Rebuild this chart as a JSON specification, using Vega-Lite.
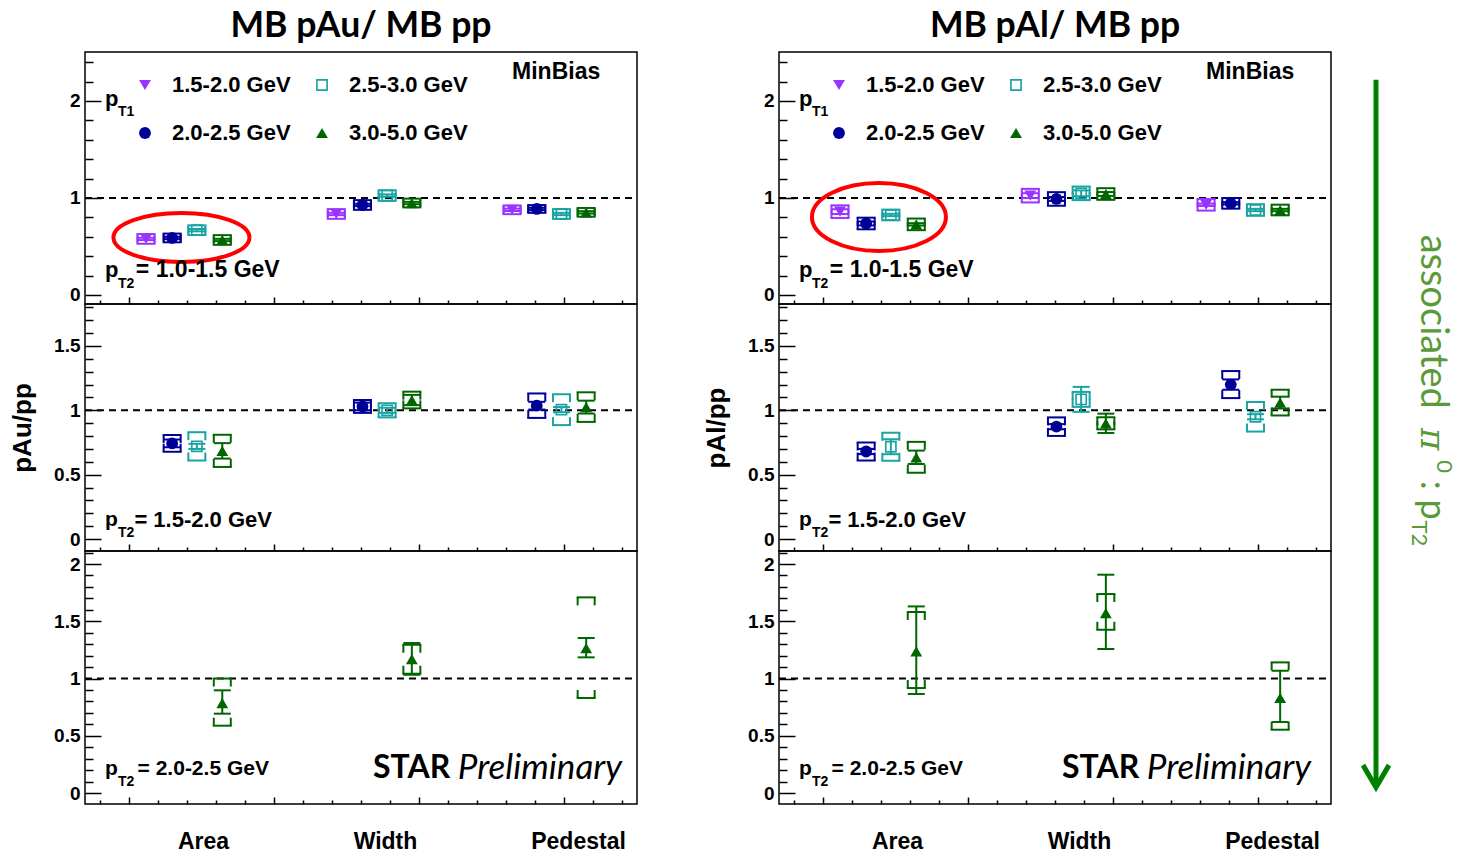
{
"$schema":"https://vega.github.io/schema/vega-lite/v6.json",
"autosize":{"type":"pad"},
"padding":{"left":8,"top":8,"right":0,"bottom":0},
"background":"white",
"config":{
"view":{"stroke":"black","strokeWidth":1.5},
"axis":{"grid":false,"domain":false,"tickColor":"black","tickWidth":1.5,"labelFont":"Liberation Sans","labelFontWeight":"bold","labelFontSize":19,"labelColor":"black","labelFlush":false,"labelOverlap":false,"titleFont":"Liberation Sans","titleFontWeight":"bold","titleFontSize":26,"titleColor":"black"},
"title":{"font":"Lato","fontWeight":"bold","fontSize":35.6,"color":"black"}
},
"spacing":63,
"hconcat":[
{"spacing":0,"bounds":"flush",
"resolve":{"scale":{"color":"independent","shape":"independent"},"legend":{"color":"independent","shape":"independent"}},
"vconcat":[
{"width":552,"height":252,
"title":{"text":"MB pAu/ MB pp","anchor":"middle","frame":"group","offset":-21,"baseline":"alphabetic"},
"data":{"values":[
{"o":"Area","p":"1.5-2.0 GeV","x":0.12,"v":0.578,"sl":0.566,"sh":0.59,"yl":0.528,"yh":0.628},
{"o":"Area","p":"2.0-2.5 GeV","x":0.3,"v":0.588,"sl":0.576,"sh":0.6,"yl":0.543,"yh":0.633},
{"o":"Area","p":"2.5-3.0 GeV","x":0.47,"v":0.668,"sl":0.656,"sh":0.68,"yl":0.618,"yh":0.718},
{"o":"Area","p":"3.0-5.0 GeV","x":0.645,"v":0.567,"sl":0.555,"sh":0.579,"yl":0.517,"yh":0.617},
{"o":"Width","p":"1.5-2.0 GeV","x":1.43,"v":0.835,"sl":0.823,"sh":0.847,"yl":0.785,"yh":0.885},
{"o":"Width","p":"2.0-2.5 GeV","x":1.61,"v":0.928,"sl":0.916,"sh":0.94,"yl":0.878,"yh":0.978},
{"o":"Width","p":"2.5-3.0 GeV","x":1.78,"v":1.025,"sl":1.013,"sh":1.037,"yl":0.97,"yh":1.08},
{"o":"Width","p":"3.0-5.0 GeV","x":1.95,"v":0.948,"sl":0.936,"sh":0.96,"yl":0.903,"yh":0.993},
{"o":"Pedestal","p":"1.5-2.0 GeV","x":2.64,"v":0.878,"sl":0.866,"sh":0.89,"yl":0.833,"yh":0.923},
{"o":"Pedestal","p":"2.0-2.5 GeV","x":2.81,"v":0.887,"sl":0.875,"sh":0.899,"yl":0.847,"yh":0.927},
{"o":"Pedestal","p":"2.5-3.0 GeV","x":2.98,"v":0.835,"sl":0.823,"sh":0.847,"yl":0.785,"yh":0.885},
{"o":"Pedestal","p":"3.0-5.0 GeV","x":3.15,"v":0.852,"sl":0.84,"sh":0.864,"yl":0.807,"yh":0.897}]},
"resolve":{"scale":{"x":"independent","y":"independent"},"axis":{"x":"independent","y":"independent"}},
"encoding":{"color":{"field":"p","type":"nominal","scale":{"domain":["1.5-2.0 GeV","2.0-2.5 GeV","2.5-3.0 GeV","3.0-5.0 GeV"],"range":["#9933ff","#000099","#1aa3a3","#006600"]}}},
"layer":[
{"transform":[{"aggregate":[{"op":"count","as":"n"}]}],"mark":{"type":"rule","strokeDash":[7,5],"strokeWidth":2},"encoding":{"x":{"datum":-0.3,"type":"quantitative","scale":{"domain":[-0.3,3.5],"nice":false,"zero":false},"axis":null},"x2":{"datum":3.5},"y":{"datum":1,"type":"quantitative","scale":{"domain":[-0.093,2.505],"nice":false,"zero":false},"axis":null},"color":{"value":"black"}}},
{"mark":{"type":"tick","orient":"horizontal","size":19,"thickness":2,"opacity":1},"encoding":{"x":{"field":"x","type":"quantitative","scale":{"domain":[-0.3,3.5],"nice":false,"zero":false},"axis":{"orient":"bottom","values":[-0.2,0.2,0.4,0.6,0.8,1.2,1.4,1.6,1.8,2.2,2.4,2.6,2.8,3.2,3.4],"tickSize":-4,"labels":false,"title":null}},"y":{"field":"yh","type":"quantitative","scale":{"domain":[-0.093,2.505],"nice":false,"zero":false},"axis":{"orient":"left","values":[0.2,0.4,0.6,0.8,1.2,1.4,1.6,1.8,2.2,2.4],"tickSize":-8,"labels":false,"title":null}}}},
{"mark":{"type":"tick","orient":"horizontal","size":19,"thickness":2,"opacity":1},"encoding":{"x":{"field":"x","type":"quantitative","scale":{"domain":[-0.3,3.5],"nice":false,"zero":false},"axis":null},"y":{"field":"yl","type":"quantitative","scale":{"domain":[-0.093,2.505],"nice":false,"zero":false},"axis":null}}},
{"mark":{"type":"tick","orient":"vertical","size":8,"thickness":2,"opacity":1,"xOffset":-8.5,"yOffset":4},"encoding":{"x":{"field":"x","type":"quantitative","scale":{"domain":[-0.3,3.5],"nice":false,"zero":false},"axis":null},"y":{"field":"yh","type":"quantitative","scale":{"domain":[-0.093,2.505],"nice":false,"zero":false},"axis":null}}},
{"mark":{"type":"tick","orient":"vertical","size":8,"thickness":2,"opacity":1,"xOffset":8.5,"yOffset":4},"encoding":{"x":{"field":"x","type":"quantitative","scale":{"domain":[-0.3,3.5],"nice":false,"zero":false},"axis":null},"y":{"field":"yh","type":"quantitative","scale":{"domain":[-0.093,2.505],"nice":false,"zero":false},"axis":null}}},
{"mark":{"type":"tick","orient":"vertical","size":8,"thickness":2,"opacity":1,"xOffset":-8.5,"yOffset":-4},"encoding":{"x":{"field":"x","type":"quantitative","scale":{"domain":[-0.3,3.5],"nice":false,"zero":false},"axis":null},"y":{"field":"yl","type":"quantitative","scale":{"domain":[-0.093,2.505],"nice":false,"zero":false},"axis":null}}},
{"mark":{"type":"tick","orient":"vertical","size":8,"thickness":2,"opacity":1,"xOffset":8.5,"yOffset":-4},"encoding":{"x":{"field":"x","type":"quantitative","scale":{"domain":[-0.3,3.5],"nice":false,"zero":false},"axis":null},"y":{"field":"yl","type":"quantitative","scale":{"domain":[-0.093,2.505],"nice":false,"zero":false},"axis":null}}},
{"mark":{"type":"rule","strokeWidth":2},"encoding":{"x":{"field":"x","type":"quantitative","scale":{"domain":[-0.3,3.5],"nice":false,"zero":false},"axis":null},"y":{"field":"sl","type":"quantitative","scale":{"domain":[-0.093,2.505],"nice":false,"zero":false},"axis":null},"y2":{"field":"sh"}}},
{"mark":{"type":"tick","orient":"horizontal","size":17,"thickness":2,"opacity":1},"encoding":{"x":{"field":"x","type":"quantitative","scale":{"domain":[-0.3,3.5],"nice":false,"zero":false},"axis":null},"y":{"field":"sl","type":"quantitative","scale":{"domain":[-0.093,2.505],"nice":false,"zero":false},"axis":null}}},
{"mark":{"type":"tick","orient":"horizontal","size":17,"thickness":2,"opacity":1},"encoding":{"x":{"field":"x","type":"quantitative","scale":{"domain":[-0.3,3.5],"nice":false,"zero":false},"axis":null},"y":{"field":"sh","type":"quantitative","scale":{"domain":[-0.093,2.505],"nice":false,"zero":false},"axis":null}}},
{"mark":{"type":"point","filled":true,"size":140,"opacity":1,"strokeWidth":0},"encoding":{"x":{"field":"x","type":"quantitative","scale":{"domain":[-0.3,3.5],"nice":false,"zero":false},"axis":{"orient":"bottom","values":[0,1,2,3],"tickSize":-7,"labels":false,"title":null}},"y":{"field":"v","type":"quantitative","scale":{"domain":[-0.093,2.505],"nice":false,"zero":false},"axis":{"orient":"left","values":[0,1,2],"tickSize":-16,"labelPadding":21,"format":"~g","title":null}},
"shape":{"field":"p","type":"nominal","scale":{"domain":["1.5-2.0 GeV","2.0-2.5 GeV","2.5-3.0 GeV","3.0-5.0 GeV"],"range":["triangle-down","circle","M-1,-1H1V1H-1Z M-0.72,-0.72V0.72H0.72V-0.72Z","triangle-up"]},"legend":{"title":null,"orient":"none","legendX":49,"legendY":22,"columns":2,"labelFont":"Liberation Sans","labelFontWeight":"bold","labelFontSize":22,"labelColor":"black","labelLimit":0,"labelOffset":16,"columnPadding":20,"rowPadding":26,"symbolSize":140,"symbolStrokeWidth":0,"padding":0}},
"color":{"field":"p","type":"nominal","scale":{"domain":["1.5-2.0 GeV","2.0-2.5 GeV","2.5-3.0 GeV","3.0-5.0 GeV"],"range":["#9933ff","#000099","#1aa3a3","#006600"]},"legend":{"title":null,"orient":"none","legendX":49,"legendY":22,"columns":2,"labelFont":"Liberation Sans","labelFontWeight":"bold","labelFontSize":22,"labelColor":"black","labelLimit":0,"labelOffset":16,"columnPadding":20,"rowPadding":26,"symbolSize":140,"symbolStrokeWidth":0,"padding":0}}}},
{"transform":[{"aggregate":[{"op":"count","as":"n"}]}],"mark":{"type":"point","shape":"M-1,0C-1,-0.199,-0.552,-0.36,0,-0.36C0.552,-0.36,1,-0.199,1,0C1,0.199,0.552,0.36,0,0.36C-0.552,0.36,-1,0.199,-1,0Z","size":18496,"filled":false,"strokeWidth":4,"opacity":1},"encoding":{"x":{"datum":0.364,"type":"quantitative","scale":{"domain":[-0.3,3.5],"nice":false,"zero":false},"axis":null},"y":{"datum":0.593,"type":"quantitative","scale":{"domain":[-0.093,2.505],"nice":false,"zero":false},"axis":null},"color":{"value":"#ff0000"}}},
{"transform":[{"aggregate":[{"op":"count","as":"n"}]}],"mark":{"type":"text","align":"left","baseline":"middle","font":"Liberation Sans","fontWeight":"bold","fontSize":22},"encoding":{"x":{"datum":-0.162,"type":"quantitative","scale":{"domain":[-0.3,3.5],"nice":false,"zero":false},"axis":null},"y":{"datum":2.02,"type":"quantitative","scale":{"domain":[-0.093,2.505],"nice":false,"zero":false},"axis":null},"text":{"value":"p"},"color":{"value":"black"}}},
{"transform":[{"aggregate":[{"op":"count","as":"n"}]}],"mark":{"type":"text","align":"left","baseline":"middle","font":"Liberation Sans","fontWeight":"bold","fontSize":14},"encoding":{"x":{"datum":-0.073,"type":"quantitative","scale":{"domain":[-0.3,3.5],"nice":false,"zero":false},"axis":null},"y":{"datum":1.887,"type":"quantitative","scale":{"domain":[-0.093,2.505],"nice":false,"zero":false},"axis":null},"text":{"value":"T1"},"color":{"value":"black"}}},
{"transform":[{"aggregate":[{"op":"count","as":"n"}]}],"mark":{"type":"text","align":"left","baseline":"middle","font":"Liberation Sans","fontWeight":"bold","fontSize":23},"encoding":{"x":{"datum":2.64,"type":"quantitative","scale":{"domain":[-0.3,3.5],"nice":false,"zero":false},"axis":null},"y":{"datum":2.299,"type":"quantitative","scale":{"domain":[-0.093,2.505],"nice":false,"zero":false},"axis":null},"text":{"value":"MinBias"},"color":{"value":"black"}}},
{"transform":[{"aggregate":[{"op":"count","as":"n"}]}],"mark":{"type":"text","align":"left","baseline":"middle","font":"Liberation Sans","fontWeight":"bold","fontSize":22},"encoding":{"x":{"datum":-0.162,"type":"quantitative","scale":{"domain":[-0.3,3.5],"nice":false,"zero":false},"axis":null},"y":{"datum":0.258,"type":"quantitative","scale":{"domain":[-0.093,2.505],"nice":false,"zero":false},"axis":null},"text":{"value":"p"},"color":{"value":"black"}}},
{"transform":[{"aggregate":[{"op":"count","as":"n"}]}],"mark":{"type":"text","align":"left","baseline":"middle","font":"Liberation Sans","fontWeight":"bold","fontSize":14},"encoding":{"x":{"datum":-0.073,"type":"quantitative","scale":{"domain":[-0.3,3.5],"nice":false,"zero":false},"axis":null},"y":{"datum":0.113,"type":"quantitative","scale":{"domain":[-0.093,2.505],"nice":false,"zero":false},"axis":null},"text":{"value":"T2"},"color":{"value":"black"}}},
{"transform":[{"aggregate":[{"op":"count","as":"n"}]}],"mark":{"type":"text","align":"left","baseline":"middle","font":"Liberation Sans","fontWeight":"bold","fontSize":23},"encoding":{"x":{"datum":0.05,"type":"quantitative","scale":{"domain":[-0.3,3.5],"nice":false,"zero":false},"axis":null},"y":{"datum":0.258,"type":"quantitative","scale":{"domain":[-0.093,2.505],"nice":false,"zero":false},"axis":null},"text":{"value":"= 1.0-1.5 GeV"},"color":{"value":"black"}}}
]},
{"width":552,"height":247,
"data":{"values":[
{"o":"Area","p":"2.0-2.5 GeV","x":0.3,"v":0.743,"sl":0.713,"sh":0.773,"yl":0.678,"yh":0.808},
{"o":"Area","p":"2.5-3.0 GeV","x":0.47,"v":0.72,"sl":0.7,"sh":0.74,"yl":0.61,"yh":0.83},
{"o":"Area","p":"3.0-5.0 GeV","x":0.645,"v":0.685,"sl":0.625,"sh":0.745,"yl":0.56,"yh":0.81},
{"o":"Width","p":"2.0-2.5 GeV","x":1.61,"v":1.03,"sl":1.0,"sh":1.06,"yl":0.98,"yh":1.08},
{"o":"Width","p":"2.5-3.0 GeV","x":1.78,"v":1.0,"sl":0.98,"sh":1.02,"yl":0.945,"yh":1.055},
{"o":"Width","p":"3.0-5.0 GeV","x":1.95,"v":1.08,"sl":1.04,"sh":1.12,"yl":1.015,"yh":1.145},
{"o":"Pedestal","p":"2.0-2.5 GeV","x":2.81,"v":1.036,"sl":1.006,"sh":1.066,"yl":0.941,"yh":1.131},
{"o":"Pedestal","p":"2.5-3.0 GeV","x":2.98,"v":1.005,"sl":0.985,"sh":1.025,"yl":0.885,"yh":1.125},
{"o":"Pedestal","p":"3.0-5.0 GeV","x":3.15,"v":1.025,"sl":0.975,"sh":1.075,"yl":0.91,"yh":1.14}]},
"resolve":{"scale":{"x":"independent","y":"independent"},"axis":{"x":"independent","y":"independent"}},
"encoding":{"color":{"field":"p","type":"nominal","scale":{"domain":["1.5-2.0 GeV","2.0-2.5 GeV","2.5-3.0 GeV","3.0-5.0 GeV"],"range":["#9933ff","#000099","#1aa3a3","#006600"]},"legend":null}},
"layer":[
{"transform":[{"aggregate":[{"op":"count","as":"n"}]}],"mark":{"type":"rule","strokeDash":[7,5],"strokeWidth":2},"encoding":{"x":{"datum":-0.3,"type":"quantitative","scale":{"domain":[-0.3,3.5],"nice":false,"zero":false},"axis":null},"x2":{"datum":3.5},"y":{"datum":1,"type":"quantitative","scale":{"domain":[-0.093,1.826],"nice":false,"zero":false},"axis":null},"color":{"value":"black"}}},
{"mark":{"type":"tick","orient":"horizontal","size":19,"thickness":2,"opacity":1},"encoding":{"x":{"field":"x","type":"quantitative","scale":{"domain":[-0.3,3.5],"nice":false,"zero":false},"axis":{"orient":"bottom","values":[-0.2,0.2,0.4,0.6,0.8,1.2,1.4,1.6,1.8,2.2,2.4,2.6,2.8,3.2,3.4],"tickSize":-4,"labels":false,"title":null}},"y":{"field":"yh","type":"quantitative","scale":{"domain":[-0.093,1.826],"nice":false,"zero":false},"axis":{"orient":"left","values":[0.1,0.2,0.3,0.4,0.6,0.7,0.8,0.9,1.1,1.2,1.3,1.4,1.6,1.7,1.8],"tickSize":-8,"labels":false,"title":null}}}},
{"mark":{"type":"tick","orient":"horizontal","size":19,"thickness":2,"opacity":1},"encoding":{"x":{"field":"x","type":"quantitative","scale":{"domain":[-0.3,3.5],"nice":false,"zero":false},"axis":null},"y":{"field":"yl","type":"quantitative","scale":{"domain":[-0.093,1.826],"nice":false,"zero":false},"axis":null}}},
{"mark":{"type":"tick","orient":"vertical","size":8,"thickness":2,"opacity":1,"xOffset":-8.5,"yOffset":4},"encoding":{"x":{"field":"x","type":"quantitative","scale":{"domain":[-0.3,3.5],"nice":false,"zero":false},"axis":null},"y":{"field":"yh","type":"quantitative","scale":{"domain":[-0.093,1.826],"nice":false,"zero":false},"axis":null}}},
{"mark":{"type":"tick","orient":"vertical","size":8,"thickness":2,"opacity":1,"xOffset":8.5,"yOffset":4},"encoding":{"x":{"field":"x","type":"quantitative","scale":{"domain":[-0.3,3.5],"nice":false,"zero":false},"axis":null},"y":{"field":"yh","type":"quantitative","scale":{"domain":[-0.093,1.826],"nice":false,"zero":false},"axis":null}}},
{"mark":{"type":"tick","orient":"vertical","size":8,"thickness":2,"opacity":1,"xOffset":-8.5,"yOffset":-4},"encoding":{"x":{"field":"x","type":"quantitative","scale":{"domain":[-0.3,3.5],"nice":false,"zero":false},"axis":null},"y":{"field":"yl","type":"quantitative","scale":{"domain":[-0.093,1.826],"nice":false,"zero":false},"axis":null}}},
{"mark":{"type":"tick","orient":"vertical","size":8,"thickness":2,"opacity":1,"xOffset":8.5,"yOffset":-4},"encoding":{"x":{"field":"x","type":"quantitative","scale":{"domain":[-0.3,3.5],"nice":false,"zero":false},"axis":null},"y":{"field":"yl","type":"quantitative","scale":{"domain":[-0.093,1.826],"nice":false,"zero":false},"axis":null}}},
{"mark":{"type":"rule","strokeWidth":2},"encoding":{"x":{"field":"x","type":"quantitative","scale":{"domain":[-0.3,3.5],"nice":false,"zero":false},"axis":null},"y":{"field":"sl","type":"quantitative","scale":{"domain":[-0.093,1.826],"nice":false,"zero":false},"axis":null},"y2":{"field":"sh"}}},
{"mark":{"type":"tick","orient":"horizontal","size":17,"thickness":2,"opacity":1},"encoding":{"x":{"field":"x","type":"quantitative","scale":{"domain":[-0.3,3.5],"nice":false,"zero":false},"axis":null},"y":{"field":"sl","type":"quantitative","scale":{"domain":[-0.093,1.826],"nice":false,"zero":false},"axis":null}}},
{"mark":{"type":"tick","orient":"horizontal","size":17,"thickness":2,"opacity":1},"encoding":{"x":{"field":"x","type":"quantitative","scale":{"domain":[-0.3,3.5],"nice":false,"zero":false},"axis":null},"y":{"field":"sh","type":"quantitative","scale":{"domain":[-0.093,1.826],"nice":false,"zero":false},"axis":null}}},
{"mark":{"type":"point","filled":true,"size":140,"opacity":1,"strokeWidth":0},"encoding":{"x":{"field":"x","type":"quantitative","scale":{"domain":[-0.3,3.5],"nice":false,"zero":false},"axis":{"orient":"bottom","values":[0,1,2,3],"tickSize":-7,"labels":false,"title":null}},"y":{"field":"v","type":"quantitative","scale":{"domain":[-0.093,1.826],"nice":false,"zero":false},"axis":{"orient":"left","values":[0,0.5,1,1.5],"tickSize":-16,"labelPadding":21,"format":"~g","title":"pAu/pp","titlePadding":18}},
"shape":{"field":"p","type":"nominal","scale":{"domain":["1.5-2.0 GeV","2.0-2.5 GeV","2.5-3.0 GeV","3.0-5.0 GeV"],"range":["triangle-down","circle","M-1,-1H1V1H-1Z M-0.72,-0.72V0.72H0.72V-0.72Z","triangle-up"]},"legend":null}}},
{"transform":[{"aggregate":[{"op":"count","as":"n"}]}],"mark":{"type":"text","align":"left","baseline":"middle","font":"Liberation Sans","fontWeight":"bold","fontSize":21},"encoding":{"x":{"datum":-0.162,"type":"quantitative","scale":{"domain":[-0.3,3.5],"nice":false,"zero":false},"axis":null},"y":{"datum":0.148,"type":"quantitative","scale":{"domain":[-0.093,1.826],"nice":false,"zero":false},"axis":null},"text":{"value":"p"},"color":{"value":"black"}}},
{"transform":[{"aggregate":[{"op":"count","as":"n"}]}],"mark":{"type":"text","align":"left","baseline":"middle","font":"Liberation Sans","fontWeight":"bold","fontSize":14},"encoding":{"x":{"datum":-0.073,"type":"quantitative","scale":{"domain":[-0.3,3.5],"nice":false,"zero":false},"axis":null},"y":{"datum":0.047,"type":"quantitative","scale":{"domain":[-0.093,1.826],"nice":false,"zero":false},"axis":null},"text":{"value":"T2"},"color":{"value":"black"}}},
{"transform":[{"aggregate":[{"op":"count","as":"n"}]}],"mark":{"type":"text","align":"left","baseline":"middle","font":"Liberation Sans","fontWeight":"bold","fontSize":22},"encoding":{"x":{"datum":0.04,"type":"quantitative","scale":{"domain":[-0.3,3.5],"nice":false,"zero":false},"axis":null},"y":{"datum":0.148,"type":"quantitative","scale":{"domain":[-0.093,1.826],"nice":false,"zero":false},"axis":null},"text":{"value":"= 1.5-2.0 GeV"},"color":{"value":"black"}}}
]},
{"width":552,"height":253,
"data":{"values":[
{"o":"Area","p":"3.0-5.0 GeV","x":0.645,"v":0.786,"sl":0.693,"sh":0.897,"yl":0.588,"yh":1.0},
{"o":"Width","p":"3.0-5.0 GeV","x":1.95,"v":1.17,"sl":1.033,"sh":1.31,"yl":1.042,"yh":1.295},
{"o":"Pedestal","p":"3.0-5.0 GeV","x":3.15,"v":1.266,"sl":1.185,"sh":1.354,"yl":0.83,"yh":1.709}]},
"resolve":{"scale":{"x":"independent","y":"independent"},"axis":{"x":"independent","y":"independent"}},
"encoding":{"color":{"field":"p","type":"nominal","scale":{"domain":["1.5-2.0 GeV","2.0-2.5 GeV","2.5-3.0 GeV","3.0-5.0 GeV"],"range":["#9933ff","#000099","#1aa3a3","#006600"]},"legend":null}},
"layer":[
{"transform":[{"aggregate":[{"op":"count","as":"n"}]}],"mark":{"type":"rule","strokeDash":[7,5],"strokeWidth":2},"encoding":{"x":{"datum":-0.3,"type":"quantitative","scale":{"domain":[-0.3,3.5],"nice":false,"zero":false},"axis":null},"x2":{"datum":3.5},"y":{"datum":1,"type":"quantitative","scale":{"domain":[-0.096,2.114],"nice":false,"zero":false},"axis":null},"color":{"value":"black"}}},
{"mark":{"type":"tick","orient":"horizontal","size":19,"thickness":2,"opacity":1},"encoding":{"x":{"field":"x","type":"quantitative","scale":{"domain":[-0.3,3.5],"nice":false,"zero":false},"axis":{"orient":"bottom","values":[-0.2,0.2,0.4,0.6,0.8,1.2,1.4,1.6,1.8,2.2,2.4,2.6,2.8,3.2,3.4],"tickSize":-4,"labels":false,"title":null}},"y":{"field":"yh","type":"quantitative","scale":{"domain":[-0.096,2.114],"nice":false,"zero":false},"axis":{"orient":"left","values":[0.1,0.2,0.3,0.4,0.6,0.7,0.8,0.9,1.1,1.2,1.3,1.4,1.6,1.7,1.8,1.9,2.1],"tickSize":-8,"labels":false,"title":null}}}},
{"mark":{"type":"tick","orient":"horizontal","size":19,"thickness":2,"opacity":1},"encoding":{"x":{"field":"x","type":"quantitative","scale":{"domain":[-0.3,3.5],"nice":false,"zero":false},"axis":{"orient":"bottom","values":[0.512,1.765,3.094],"ticks":false,"labelExpr":"datum.value==0.512 ? 'Area' : (datum.value==1.765 ? 'Width' : 'Pedestal')","labelFontSize":23,"labelBaseline":"middle","labelAlign":"center","labelPadding":37,"title":null}},"y":{"field":"yl","type":"quantitative","scale":{"domain":[-0.096,2.114],"nice":false,"zero":false},"axis":null}}},
{"mark":{"type":"tick","orient":"vertical","size":8,"thickness":2,"opacity":1,"xOffset":-8.5,"yOffset":4},"encoding":{"x":{"field":"x","type":"quantitative","scale":{"domain":[-0.3,3.5],"nice":false,"zero":false},"axis":null},"y":{"field":"yh","type":"quantitative","scale":{"domain":[-0.096,2.114],"nice":false,"zero":false},"axis":null}}},
{"mark":{"type":"tick","orient":"vertical","size":8,"thickness":2,"opacity":1,"xOffset":8.5,"yOffset":4},"encoding":{"x":{"field":"x","type":"quantitative","scale":{"domain":[-0.3,3.5],"nice":false,"zero":false},"axis":null},"y":{"field":"yh","type":"quantitative","scale":{"domain":[-0.096,2.114],"nice":false,"zero":false},"axis":null}}},
{"mark":{"type":"tick","orient":"vertical","size":8,"thickness":2,"opacity":1,"xOffset":-8.5,"yOffset":-4},"encoding":{"x":{"field":"x","type":"quantitative","scale":{"domain":[-0.3,3.5],"nice":false,"zero":false},"axis":null},"y":{"field":"yl","type":"quantitative","scale":{"domain":[-0.096,2.114],"nice":false,"zero":false},"axis":null}}},
{"mark":{"type":"tick","orient":"vertical","size":8,"thickness":2,"opacity":1,"xOffset":8.5,"yOffset":-4},"encoding":{"x":{"field":"x","type":"quantitative","scale":{"domain":[-0.3,3.5],"nice":false,"zero":false},"axis":null},"y":{"field":"yl","type":"quantitative","scale":{"domain":[-0.096,2.114],"nice":false,"zero":false},"axis":null}}},
{"mark":{"type":"rule","strokeWidth":2},"encoding":{"x":{"field":"x","type":"quantitative","scale":{"domain":[-0.3,3.5],"nice":false,"zero":false},"axis":null},"y":{"field":"sl","type":"quantitative","scale":{"domain":[-0.096,2.114],"nice":false,"zero":false},"axis":null},"y2":{"field":"sh"}}},
{"mark":{"type":"tick","orient":"horizontal","size":17,"thickness":2,"opacity":1},"encoding":{"x":{"field":"x","type":"quantitative","scale":{"domain":[-0.3,3.5],"nice":false,"zero":false},"axis":null},"y":{"field":"sl","type":"quantitative","scale":{"domain":[-0.096,2.114],"nice":false,"zero":false},"axis":null}}},
{"mark":{"type":"tick","orient":"horizontal","size":17,"thickness":2,"opacity":1},"encoding":{"x":{"field":"x","type":"quantitative","scale":{"domain":[-0.3,3.5],"nice":false,"zero":false},"axis":null},"y":{"field":"sh","type":"quantitative","scale":{"domain":[-0.096,2.114],"nice":false,"zero":false},"axis":null}}},
{"mark":{"type":"point","filled":true,"size":140,"opacity":1,"strokeWidth":0},"encoding":{"x":{"field":"x","type":"quantitative","scale":{"domain":[-0.3,3.5],"nice":false,"zero":false},"axis":{"orient":"bottom","values":[0,1,2,3],"tickSize":-7,"labels":false,"title":null}},"y":{"field":"v","type":"quantitative","scale":{"domain":[-0.096,2.114],"nice":false,"zero":false},"axis":{"orient":"left","values":[0,0.5,1,1.5,2],"tickSize":-16,"labelPadding":21,"format":"~g","title":null}},
"shape":{"field":"p","type":"nominal","scale":{"domain":["1.5-2.0 GeV","2.0-2.5 GeV","2.5-3.0 GeV","3.0-5.0 GeV"],"range":["triangle-down","circle","M-1,-1H1V1H-1Z M-0.72,-0.72V0.72H0.72V-0.72Z","triangle-up"]},"legend":null}}},
{"transform":[{"aggregate":[{"op":"count","as":"n"}]}],"mark":{"type":"text","align":"left","baseline":"middle","font":"Liberation Sans","fontWeight":"bold","fontSize":21},"encoding":{"x":{"datum":-0.162,"type":"quantitative","scale":{"domain":[-0.3,3.5],"nice":false,"zero":false},"axis":null},"y":{"datum":0.21,"type":"quantitative","scale":{"domain":[-0.096,2.114],"nice":false,"zero":false},"axis":null},"text":{"value":"p"},"color":{"value":"black"}}},
{"transform":[{"aggregate":[{"op":"count","as":"n"}]}],"mark":{"type":"text","align":"left","baseline":"middle","font":"Liberation Sans","fontWeight":"bold","fontSize":14},"encoding":{"x":{"datum":-0.073,"type":"quantitative","scale":{"domain":[-0.3,3.5],"nice":false,"zero":false},"axis":null},"y":{"datum":0.096,"type":"quantitative","scale":{"domain":[-0.096,2.114],"nice":false,"zero":false},"axis":null},"text":{"value":"T2"},"color":{"value":"black"}}},
{"transform":[{"aggregate":[{"op":"count","as":"n"}]}],"mark":{"type":"text","align":"left","baseline":"middle","font":"Liberation Sans","fontWeight":"bold","fontSize":21},"encoding":{"x":{"datum":0.062,"type":"quantitative","scale":{"domain":[-0.3,3.5],"nice":false,"zero":false},"axis":null},"y":{"datum":0.21,"type":"quantitative","scale":{"domain":[-0.096,2.114],"nice":false,"zero":false},"axis":null},"text":{"value":"= 2.0-2.5 GeV"},"color":{"value":"black"}}},
{"transform":[{"aggregate":[{"op":"count","as":"n"}]}],"mark":{"type":"text","align":"left","baseline":"middle","font":"Lato","fontWeight":"bold","fontSize":32},"encoding":{"x":{"datum":1.683,"type":"quantitative","scale":{"domain":[-0.3,3.5],"nice":false,"zero":false},"axis":null},"y":{"datum":0.218,"type":"quantitative","scale":{"domain":[-0.096,2.114],"nice":false,"zero":false},"axis":null},"text":{"value":"STAR"},"color":{"value":"black"}}},
{"transform":[{"aggregate":[{"op":"count","as":"n"}]}],"mark":{"type":"text","align":"right","baseline":"middle","font":"Lato","fontStyle":"italic","fontSize":35},"encoding":{"x":{"datum":3.397,"type":"quantitative","scale":{"domain":[-0.3,3.5],"nice":false,"zero":false},"axis":null},"y":{"datum":0.218,"type":"quantitative","scale":{"domain":[-0.096,2.114],"nice":false,"zero":false},"axis":null},"text":{"value":"Preliminary"},"color":{"value":"black"}}}
]}
]},
{"spacing":20,
"hconcat":[
{"spacing":0,"bounds":"flush",
"resolve":{"scale":{"color":"independent","shape":"independent"},"legend":{"color":"independent","shape":"independent"}},
"vconcat":[
{"width":552,"height":252,
"title":{"text":"MB pAl/ MB pp","anchor":"middle","frame":"group","offset":-21,"baseline":"alphabetic"},
"data":{"values":[
{"o":"Area","p":"1.5-2.0 GeV","x":0.12,"v":0.859,"sl":0.834,"sh":0.884,"yl":0.794,"yh":0.924},
{"o":"Area","p":"2.0-2.5 GeV","x":0.3,"v":0.737,"sl":0.717,"sh":0.757,"yl":0.677,"yh":0.797},
{"o":"Area","p":"2.5-3.0 GeV","x":0.47,"v":0.825,"sl":0.813,"sh":0.837,"yl":0.77,"yh":0.88},
{"o":"Area","p":"3.0-5.0 GeV","x":0.645,"v":0.728,"sl":0.716,"sh":0.74,"yl":0.668,"yh":0.788},
{"o":"Width","p":"1.5-2.0 GeV","x":1.43,"v":1.024,"sl":0.999,"sh":1.049,"yl":0.954,"yh":1.094},
{"o":"Width","p":"2.0-2.5 GeV","x":1.61,"v":0.99,"sl":0.97,"sh":1.01,"yl":0.92,"yh":1.06},
{"o":"Width","p":"2.5-3.0 GeV","x":1.78,"v":1.048,"sl":1.018,"sh":1.078,"yl":0.978,"yh":1.118},
{"o":"Width","p":"3.0-5.0 GeV","x":1.95,"v":1.041,"sl":1.021,"sh":1.061,"yl":0.981,"yh":1.101},
{"o":"Pedestal","p":"1.5-2.0 GeV","x":2.64,"v":0.93,"sl":0.918,"sh":0.942,"yl":0.87,"yh":0.99},
{"o":"Pedestal","p":"2.0-2.5 GeV","x":2.81,"v":0.945,"sl":0.933,"sh":0.957,"yl":0.89,"yh":1.0},
{"o":"Pedestal","p":"2.5-3.0 GeV","x":2.98,"v":0.876,"sl":0.864,"sh":0.888,"yl":0.816,"yh":0.936},
{"o":"Pedestal","p":"3.0-5.0 GeV","x":3.15,"v":0.876,"sl":0.864,"sh":0.888,"yl":0.821,"yh":0.931}]},
"resolve":{"scale":{"x":"independent","y":"independent"},"axis":{"x":"independent","y":"independent"}},
"encoding":{"color":{"field":"p","type":"nominal","scale":{"domain":["1.5-2.0 GeV","2.0-2.5 GeV","2.5-3.0 GeV","3.0-5.0 GeV"],"range":["#9933ff","#000099","#1aa3a3","#006600"]}}},
"layer":[
{"transform":[{"aggregate":[{"op":"count","as":"n"}]}],"mark":{"type":"rule","strokeDash":[7,5],"strokeWidth":2},"encoding":{"x":{"datum":-0.3,"type":"quantitative","scale":{"domain":[-0.3,3.5],"nice":false,"zero":false},"axis":null},"x2":{"datum":3.5},"y":{"datum":1,"type":"quantitative","scale":{"domain":[-0.093,2.505],"nice":false,"zero":false},"axis":null},"color":{"value":"black"}}},
{"mark":{"type":"tick","orient":"horizontal","size":19,"thickness":2,"opacity":1},"encoding":{"x":{"field":"x","type":"quantitative","scale":{"domain":[-0.3,3.5],"nice":false,"zero":false},"axis":{"orient":"bottom","values":[-0.2,0.2,0.4,0.6,0.8,1.2,1.4,1.6,1.8,2.2,2.4,2.6,2.8,3.2,3.4],"tickSize":-4,"labels":false,"title":null}},"y":{"field":"yh","type":"quantitative","scale":{"domain":[-0.093,2.505],"nice":false,"zero":false},"axis":{"orient":"left","values":[0.2,0.4,0.6,0.8,1.2,1.4,1.6,1.8,2.2,2.4],"tickSize":-8,"labels":false,"title":null}}}},
{"mark":{"type":"tick","orient":"horizontal","size":19,"thickness":2,"opacity":1},"encoding":{"x":{"field":"x","type":"quantitative","scale":{"domain":[-0.3,3.5],"nice":false,"zero":false},"axis":null},"y":{"field":"yl","type":"quantitative","scale":{"domain":[-0.093,2.505],"nice":false,"zero":false},"axis":null}}},
{"mark":{"type":"tick","orient":"vertical","size":8,"thickness":2,"opacity":1,"xOffset":-8.5,"yOffset":4},"encoding":{"x":{"field":"x","type":"quantitative","scale":{"domain":[-0.3,3.5],"nice":false,"zero":false},"axis":null},"y":{"field":"yh","type":"quantitative","scale":{"domain":[-0.093,2.505],"nice":false,"zero":false},"axis":null}}},
{"mark":{"type":"tick","orient":"vertical","size":8,"thickness":2,"opacity":1,"xOffset":8.5,"yOffset":4},"encoding":{"x":{"field":"x","type":"quantitative","scale":{"domain":[-0.3,3.5],"nice":false,"zero":false},"axis":null},"y":{"field":"yh","type":"quantitative","scale":{"domain":[-0.093,2.505],"nice":false,"zero":false},"axis":null}}},
{"mark":{"type":"tick","orient":"vertical","size":8,"thickness":2,"opacity":1,"xOffset":-8.5,"yOffset":-4},"encoding":{"x":{"field":"x","type":"quantitative","scale":{"domain":[-0.3,3.5],"nice":false,"zero":false},"axis":null},"y":{"field":"yl","type":"quantitative","scale":{"domain":[-0.093,2.505],"nice":false,"zero":false},"axis":null}}},
{"mark":{"type":"tick","orient":"vertical","size":8,"thickness":2,"opacity":1,"xOffset":8.5,"yOffset":-4},"encoding":{"x":{"field":"x","type":"quantitative","scale":{"domain":[-0.3,3.5],"nice":false,"zero":false},"axis":null},"y":{"field":"yl","type":"quantitative","scale":{"domain":[-0.093,2.505],"nice":false,"zero":false},"axis":null}}},
{"mark":{"type":"rule","strokeWidth":2},"encoding":{"x":{"field":"x","type":"quantitative","scale":{"domain":[-0.3,3.5],"nice":false,"zero":false},"axis":null},"y":{"field":"sl","type":"quantitative","scale":{"domain":[-0.093,2.505],"nice":false,"zero":false},"axis":null},"y2":{"field":"sh"}}},
{"mark":{"type":"tick","orient":"horizontal","size":17,"thickness":2,"opacity":1},"encoding":{"x":{"field":"x","type":"quantitative","scale":{"domain":[-0.3,3.5],"nice":false,"zero":false},"axis":null},"y":{"field":"sl","type":"quantitative","scale":{"domain":[-0.093,2.505],"nice":false,"zero":false},"axis":null}}},
{"mark":{"type":"tick","orient":"horizontal","size":17,"thickness":2,"opacity":1},"encoding":{"x":{"field":"x","type":"quantitative","scale":{"domain":[-0.3,3.5],"nice":false,"zero":false},"axis":null},"y":{"field":"sh","type":"quantitative","scale":{"domain":[-0.093,2.505],"nice":false,"zero":false},"axis":null}}},
{"mark":{"type":"point","filled":true,"size":140,"opacity":1,"strokeWidth":0},"encoding":{"x":{"field":"x","type":"quantitative","scale":{"domain":[-0.3,3.5],"nice":false,"zero":false},"axis":{"orient":"bottom","values":[0,1,2,3],"tickSize":-7,"labels":false,"title":null}},"y":{"field":"v","type":"quantitative","scale":{"domain":[-0.093,2.505],"nice":false,"zero":false},"axis":{"orient":"left","values":[0,1,2],"tickSize":-16,"labelPadding":21,"format":"~g","title":null}},
"shape":{"field":"p","type":"nominal","scale":{"domain":["1.5-2.0 GeV","2.0-2.5 GeV","2.5-3.0 GeV","3.0-5.0 GeV"],"range":["triangle-down","circle","M-1,-1H1V1H-1Z M-0.72,-0.72V0.72H0.72V-0.72Z","triangle-up"]},"legend":{"title":null,"orient":"none","legendX":49,"legendY":22,"columns":2,"labelFont":"Liberation Sans","labelFontWeight":"bold","labelFontSize":22,"labelColor":"black","labelLimit":0,"labelOffset":16,"columnPadding":20,"rowPadding":26,"symbolSize":140,"symbolStrokeWidth":0,"padding":0}},
"color":{"field":"p","type":"nominal","scale":{"domain":["1.5-2.0 GeV","2.0-2.5 GeV","2.5-3.0 GeV","3.0-5.0 GeV"],"range":["#9933ff","#000099","#1aa3a3","#006600"]},"legend":{"title":null,"orient":"none","legendX":49,"legendY":22,"columns":2,"labelFont":"Liberation Sans","labelFontWeight":"bold","labelFontSize":22,"labelColor":"black","labelLimit":0,"labelOffset":16,"columnPadding":20,"rowPadding":26,"symbolSize":140,"symbolStrokeWidth":0,"padding":0}}}},
{"transform":[{"aggregate":[{"op":"count","as":"n"}]}],"mark":{"type":"point","shape":"M-1,0C-1,-0.28,-0.552,-0.507,0,-0.507C0.552,-0.507,1,-0.28,1,0C1,0.28,0.552,0.507,0,0.507C-0.552,0.507,-1,0.28,-1,0Z","size":17956,"filled":false,"strokeWidth":4,"opacity":1},"encoding":{"x":{"datum":0.388,"type":"quantitative","scale":{"domain":[-0.3,3.5],"nice":false,"zero":false},"axis":null},"y":{"datum":0.804,"type":"quantitative","scale":{"domain":[-0.093,2.505],"nice":false,"zero":false},"axis":null},"color":{"value":"#ff0000"}}},
{"transform":[{"aggregate":[{"op":"count","as":"n"}]}],"mark":{"type":"text","align":"left","baseline":"middle","font":"Liberation Sans","fontWeight":"bold","fontSize":22},"encoding":{"x":{"datum":-0.162,"type":"quantitative","scale":{"domain":[-0.3,3.5],"nice":false,"zero":false},"axis":null},"y":{"datum":2.02,"type":"quantitative","scale":{"domain":[-0.093,2.505],"nice":false,"zero":false},"axis":null},"text":{"value":"p"},"color":{"value":"black"}}},
{"transform":[{"aggregate":[{"op":"count","as":"n"}]}],"mark":{"type":"text","align":"left","baseline":"middle","font":"Liberation Sans","fontWeight":"bold","fontSize":14},"encoding":{"x":{"datum":-0.073,"type":"quantitative","scale":{"domain":[-0.3,3.5],"nice":false,"zero":false},"axis":null},"y":{"datum":1.887,"type":"quantitative","scale":{"domain":[-0.093,2.505],"nice":false,"zero":false},"axis":null},"text":{"value":"T1"},"color":{"value":"black"}}},
{"transform":[{"aggregate":[{"op":"count","as":"n"}]}],"mark":{"type":"text","align":"left","baseline":"middle","font":"Liberation Sans","fontWeight":"bold","fontSize":23},"encoding":{"x":{"datum":2.64,"type":"quantitative","scale":{"domain":[-0.3,3.5],"nice":false,"zero":false},"axis":null},"y":{"datum":2.299,"type":"quantitative","scale":{"domain":[-0.093,2.505],"nice":false,"zero":false},"axis":null},"text":{"value":"MinBias"},"color":{"value":"black"}}},
{"transform":[{"aggregate":[{"op":"count","as":"n"}]}],"mark":{"type":"text","align":"left","baseline":"middle","font":"Liberation Sans","fontWeight":"bold","fontSize":22},"encoding":{"x":{"datum":-0.162,"type":"quantitative","scale":{"domain":[-0.3,3.5],"nice":false,"zero":false},"axis":null},"y":{"datum":0.258,"type":"quantitative","scale":{"domain":[-0.093,2.505],"nice":false,"zero":false},"axis":null},"text":{"value":"p"},"color":{"value":"black"}}},
{"transform":[{"aggregate":[{"op":"count","as":"n"}]}],"mark":{"type":"text","align":"left","baseline":"middle","font":"Liberation Sans","fontWeight":"bold","fontSize":14},"encoding":{"x":{"datum":-0.073,"type":"quantitative","scale":{"domain":[-0.3,3.5],"nice":false,"zero":false},"axis":null},"y":{"datum":0.113,"type":"quantitative","scale":{"domain":[-0.093,2.505],"nice":false,"zero":false},"axis":null},"text":{"value":"T2"},"color":{"value":"black"}}},
{"transform":[{"aggregate":[{"op":"count","as":"n"}]}],"mark":{"type":"text","align":"left","baseline":"middle","font":"Liberation Sans","fontWeight":"bold","fontSize":23},"encoding":{"x":{"datum":0.05,"type":"quantitative","scale":{"domain":[-0.3,3.5],"nice":false,"zero":false},"axis":null},"y":{"datum":0.258,"type":"quantitative","scale":{"domain":[-0.093,2.505],"nice":false,"zero":false},"axis":null},"text":{"value":"= 1.0-1.5 GeV"},"color":{"value":"black"}}}
]},
{"width":552,"height":247,
"data":{"values":[
{"o":"Area","p":"2.0-2.5 GeV","x":0.3,"v":0.68,"sl":0.66,"sh":0.7,"yl":0.61,"yh":0.75},
{"o":"Area","p":"2.5-3.0 GeV","x":0.47,"v":0.717,"sl":0.659,"sh":0.775,"yl":0.608,"yh":0.826},
{"o":"Area","p":"3.0-5.0 GeV","x":0.645,"v":0.635,"sl":0.583,"sh":0.687,"yl":0.515,"yh":0.755},
{"o":"Width","p":"2.0-2.5 GeV","x":1.61,"v":0.873,"sl":0.853,"sh":0.893,"yl":0.801,"yh":0.945},
{"o":"Width","p":"2.5-3.0 GeV","x":1.78,"v":1.085,"sl":0.988,"sh":1.182,"yl":1.027,"yh":1.143},
{"o":"Width","p":"3.0-5.0 GeV","x":1.95,"v":0.899,"sl":0.824,"sh":0.974,"yl":0.852,"yh":0.946},
{"o":"Pedestal","p":"2.0-2.5 GeV","x":2.81,"v":1.2,"sl":1.16,"sh":1.24,"yl":1.095,"yh":1.305},
{"o":"Pedestal","p":"2.5-3.0 GeV","x":2.98,"v":0.95,"sl":0.93,"sh":0.97,"yl":0.835,"yh":1.065},
{"o":"Pedestal","p":"3.0-5.0 GeV","x":3.15,"v":1.06,"sl":1.014,"sh":1.106,"yl":0.96,"yh":1.16}]},
"resolve":{"scale":{"x":"independent","y":"independent"},"axis":{"x":"independent","y":"independent"}},
"encoding":{"color":{"field":"p","type":"nominal","scale":{"domain":["1.5-2.0 GeV","2.0-2.5 GeV","2.5-3.0 GeV","3.0-5.0 GeV"],"range":["#9933ff","#000099","#1aa3a3","#006600"]},"legend":null}},
"layer":[
{"transform":[{"aggregate":[{"op":"count","as":"n"}]}],"mark":{"type":"rule","strokeDash":[7,5],"strokeWidth":2},"encoding":{"x":{"datum":-0.3,"type":"quantitative","scale":{"domain":[-0.3,3.5],"nice":false,"zero":false},"axis":null},"x2":{"datum":3.5},"y":{"datum":1,"type":"quantitative","scale":{"domain":[-0.093,1.826],"nice":false,"zero":false},"axis":null},"color":{"value":"black"}}},
{"mark":{"type":"tick","orient":"horizontal","size":19,"thickness":2,"opacity":1},"encoding":{"x":{"field":"x","type":"quantitative","scale":{"domain":[-0.3,3.5],"nice":false,"zero":false},"axis":{"orient":"bottom","values":[-0.2,0.2,0.4,0.6,0.8,1.2,1.4,1.6,1.8,2.2,2.4,2.6,2.8,3.2,3.4],"tickSize":-4,"labels":false,"title":null}},"y":{"field":"yh","type":"quantitative","scale":{"domain":[-0.093,1.826],"nice":false,"zero":false},"axis":{"orient":"left","values":[0.1,0.2,0.3,0.4,0.6,0.7,0.8,0.9,1.1,1.2,1.3,1.4,1.6,1.7,1.8],"tickSize":-8,"labels":false,"title":null}}}},
{"mark":{"type":"tick","orient":"horizontal","size":19,"thickness":2,"opacity":1},"encoding":{"x":{"field":"x","type":"quantitative","scale":{"domain":[-0.3,3.5],"nice":false,"zero":false},"axis":null},"y":{"field":"yl","type":"quantitative","scale":{"domain":[-0.093,1.826],"nice":false,"zero":false},"axis":null}}},
{"mark":{"type":"tick","orient":"vertical","size":8,"thickness":2,"opacity":1,"xOffset":-8.5,"yOffset":4},"encoding":{"x":{"field":"x","type":"quantitative","scale":{"domain":[-0.3,3.5],"nice":false,"zero":false},"axis":null},"y":{"field":"yh","type":"quantitative","scale":{"domain":[-0.093,1.826],"nice":false,"zero":false},"axis":null}}},
{"mark":{"type":"tick","orient":"vertical","size":8,"thickness":2,"opacity":1,"xOffset":8.5,"yOffset":4},"encoding":{"x":{"field":"x","type":"quantitative","scale":{"domain":[-0.3,3.5],"nice":false,"zero":false},"axis":null},"y":{"field":"yh","type":"quantitative","scale":{"domain":[-0.093,1.826],"nice":false,"zero":false},"axis":null}}},
{"mark":{"type":"tick","orient":"vertical","size":8,"thickness":2,"opacity":1,"xOffset":-8.5,"yOffset":-4},"encoding":{"x":{"field":"x","type":"quantitative","scale":{"domain":[-0.3,3.5],"nice":false,"zero":false},"axis":null},"y":{"field":"yl","type":"quantitative","scale":{"domain":[-0.093,1.826],"nice":false,"zero":false},"axis":null}}},
{"mark":{"type":"tick","orient":"vertical","size":8,"thickness":2,"opacity":1,"xOffset":8.5,"yOffset":-4},"encoding":{"x":{"field":"x","type":"quantitative","scale":{"domain":[-0.3,3.5],"nice":false,"zero":false},"axis":null},"y":{"field":"yl","type":"quantitative","scale":{"domain":[-0.093,1.826],"nice":false,"zero":false},"axis":null}}},
{"mark":{"type":"rule","strokeWidth":2},"encoding":{"x":{"field":"x","type":"quantitative","scale":{"domain":[-0.3,3.5],"nice":false,"zero":false},"axis":null},"y":{"field":"sl","type":"quantitative","scale":{"domain":[-0.093,1.826],"nice":false,"zero":false},"axis":null},"y2":{"field":"sh"}}},
{"mark":{"type":"tick","orient":"horizontal","size":17,"thickness":2,"opacity":1},"encoding":{"x":{"field":"x","type":"quantitative","scale":{"domain":[-0.3,3.5],"nice":false,"zero":false},"axis":null},"y":{"field":"sl","type":"quantitative","scale":{"domain":[-0.093,1.826],"nice":false,"zero":false},"axis":null}}},
{"mark":{"type":"tick","orient":"horizontal","size":17,"thickness":2,"opacity":1},"encoding":{"x":{"field":"x","type":"quantitative","scale":{"domain":[-0.3,3.5],"nice":false,"zero":false},"axis":null},"y":{"field":"sh","type":"quantitative","scale":{"domain":[-0.093,1.826],"nice":false,"zero":false},"axis":null}}},
{"mark":{"type":"point","filled":true,"size":140,"opacity":1,"strokeWidth":0},"encoding":{"x":{"field":"x","type":"quantitative","scale":{"domain":[-0.3,3.5],"nice":false,"zero":false},"axis":{"orient":"bottom","values":[0,1,2,3],"tickSize":-7,"labels":false,"title":null}},"y":{"field":"v","type":"quantitative","scale":{"domain":[-0.093,1.826],"nice":false,"zero":false},"axis":{"orient":"left","values":[0,0.5,1,1.5],"tickSize":-16,"labelPadding":21,"format":"~g","title":"pAl/pp","titlePadding":18}},
"shape":{"field":"p","type":"nominal","scale":{"domain":["1.5-2.0 GeV","2.0-2.5 GeV","2.5-3.0 GeV","3.0-5.0 GeV"],"range":["triangle-down","circle","M-1,-1H1V1H-1Z M-0.72,-0.72V0.72H0.72V-0.72Z","triangle-up"]},"legend":null}}},
{"transform":[{"aggregate":[{"op":"count","as":"n"}]}],"mark":{"type":"text","align":"left","baseline":"middle","font":"Liberation Sans","fontWeight":"bold","fontSize":21},"encoding":{"x":{"datum":-0.162,"type":"quantitative","scale":{"domain":[-0.3,3.5],"nice":false,"zero":false},"axis":null},"y":{"datum":0.148,"type":"quantitative","scale":{"domain":[-0.093,1.826],"nice":false,"zero":false},"axis":null},"text":{"value":"p"},"color":{"value":"black"}}},
{"transform":[{"aggregate":[{"op":"count","as":"n"}]}],"mark":{"type":"text","align":"left","baseline":"middle","font":"Liberation Sans","fontWeight":"bold","fontSize":14},"encoding":{"x":{"datum":-0.073,"type":"quantitative","scale":{"domain":[-0.3,3.5],"nice":false,"zero":false},"axis":null},"y":{"datum":0.047,"type":"quantitative","scale":{"domain":[-0.093,1.826],"nice":false,"zero":false},"axis":null},"text":{"value":"T2"},"color":{"value":"black"}}},
{"transform":[{"aggregate":[{"op":"count","as":"n"}]}],"mark":{"type":"text","align":"left","baseline":"middle","font":"Liberation Sans","fontWeight":"bold","fontSize":22},"encoding":{"x":{"datum":0.04,"type":"quantitative","scale":{"domain":[-0.3,3.5],"nice":false,"zero":false},"axis":null},"y":{"datum":0.148,"type":"quantitative","scale":{"domain":[-0.093,1.826],"nice":false,"zero":false},"axis":null},"text":{"value":"= 1.5-2.0 GeV"},"color":{"value":"black"}}}
]},
{"width":552,"height":253,
"data":{"values":[
{"o":"Area","p":"3.0-5.0 GeV","x":0.645,"v":1.237,"sl":0.865,"sh":1.63,"yl":0.917,"yh":1.581},
{"o":"Width","p":"3.0-5.0 GeV","x":1.95,"v":1.572,"sl":1.258,"sh":1.907,"yl":1.426,"yh":1.738},
{"o":"Pedestal","p":"3.0-5.0 GeV","x":3.15,"v":0.83,"sl":0.62,"sh":1.068,"yl":0.553,"yh":1.141}]},
"resolve":{"scale":{"x":"independent","y":"independent"},"axis":{"x":"independent","y":"independent"}},
"encoding":{"color":{"field":"p","type":"nominal","scale":{"domain":["1.5-2.0 GeV","2.0-2.5 GeV","2.5-3.0 GeV","3.0-5.0 GeV"],"range":["#9933ff","#000099","#1aa3a3","#006600"]},"legend":null}},
"layer":[
{"transform":[{"aggregate":[{"op":"count","as":"n"}]}],"mark":{"type":"rule","strokeDash":[7,5],"strokeWidth":2},"encoding":{"x":{"datum":-0.3,"type":"quantitative","scale":{"domain":[-0.3,3.5],"nice":false,"zero":false},"axis":null},"x2":{"datum":3.5},"y":{"datum":1,"type":"quantitative","scale":{"domain":[-0.096,2.114],"nice":false,"zero":false},"axis":null},"color":{"value":"black"}}},
{"mark":{"type":"tick","orient":"horizontal","size":19,"thickness":2,"opacity":1},"encoding":{"x":{"field":"x","type":"quantitative","scale":{"domain":[-0.3,3.5],"nice":false,"zero":false},"axis":{"orient":"bottom","values":[-0.2,0.2,0.4,0.6,0.8,1.2,1.4,1.6,1.8,2.2,2.4,2.6,2.8,3.2,3.4],"tickSize":-4,"labels":false,"title":null}},"y":{"field":"yh","type":"quantitative","scale":{"domain":[-0.096,2.114],"nice":false,"zero":false},"axis":{"orient":"left","values":[0.1,0.2,0.3,0.4,0.6,0.7,0.8,0.9,1.1,1.2,1.3,1.4,1.6,1.7,1.8,1.9,2.1],"tickSize":-8,"labels":false,"title":null}}}},
{"mark":{"type":"tick","orient":"horizontal","size":19,"thickness":2,"opacity":1},"encoding":{"x":{"field":"x","type":"quantitative","scale":{"domain":[-0.3,3.5],"nice":false,"zero":false},"axis":{"orient":"bottom","values":[0.512,1.765,3.094],"ticks":false,"labelExpr":"datum.value==0.512 ? 'Area' : (datum.value==1.765 ? 'Width' : 'Pedestal')","labelFontSize":23,"labelBaseline":"middle","labelAlign":"center","labelPadding":37,"title":null}},"y":{"field":"yl","type":"quantitative","scale":{"domain":[-0.096,2.114],"nice":false,"zero":false},"axis":null}}},
{"mark":{"type":"tick","orient":"vertical","size":8,"thickness":2,"opacity":1,"xOffset":-8.5,"yOffset":4},"encoding":{"x":{"field":"x","type":"quantitative","scale":{"domain":[-0.3,3.5],"nice":false,"zero":false},"axis":null},"y":{"field":"yh","type":"quantitative","scale":{"domain":[-0.096,2.114],"nice":false,"zero":false},"axis":null}}},
{"mark":{"type":"tick","orient":"vertical","size":8,"thickness":2,"opacity":1,"xOffset":8.5,"yOffset":4},"encoding":{"x":{"field":"x","type":"quantitative","scale":{"domain":[-0.3,3.5],"nice":false,"zero":false},"axis":null},"y":{"field":"yh","type":"quantitative","scale":{"domain":[-0.096,2.114],"nice":false,"zero":false},"axis":null}}},
{"mark":{"type":"tick","orient":"vertical","size":8,"thickness":2,"opacity":1,"xOffset":-8.5,"yOffset":-4},"encoding":{"x":{"field":"x","type":"quantitative","scale":{"domain":[-0.3,3.5],"nice":false,"zero":false},"axis":null},"y":{"field":"yl","type":"quantitative","scale":{"domain":[-0.096,2.114],"nice":false,"zero":false},"axis":null}}},
{"mark":{"type":"tick","orient":"vertical","size":8,"thickness":2,"opacity":1,"xOffset":8.5,"yOffset":-4},"encoding":{"x":{"field":"x","type":"quantitative","scale":{"domain":[-0.3,3.5],"nice":false,"zero":false},"axis":null},"y":{"field":"yl","type":"quantitative","scale":{"domain":[-0.096,2.114],"nice":false,"zero":false},"axis":null}}},
{"mark":{"type":"rule","strokeWidth":2},"encoding":{"x":{"field":"x","type":"quantitative","scale":{"domain":[-0.3,3.5],"nice":false,"zero":false},"axis":null},"y":{"field":"sl","type":"quantitative","scale":{"domain":[-0.096,2.114],"nice":false,"zero":false},"axis":null},"y2":{"field":"sh"}}},
{"mark":{"type":"tick","orient":"horizontal","size":17,"thickness":2,"opacity":1},"encoding":{"x":{"field":"x","type":"quantitative","scale":{"domain":[-0.3,3.5],"nice":false,"zero":false},"axis":null},"y":{"field":"sl","type":"quantitative","scale":{"domain":[-0.096,2.114],"nice":false,"zero":false},"axis":null}}},
{"mark":{"type":"tick","orient":"horizontal","size":17,"thickness":2,"opacity":1},"encoding":{"x":{"field":"x","type":"quantitative","scale":{"domain":[-0.3,3.5],"nice":false,"zero":false},"axis":null},"y":{"field":"sh","type":"quantitative","scale":{"domain":[-0.096,2.114],"nice":false,"zero":false},"axis":null}}},
{"mark":{"type":"point","filled":true,"size":140,"opacity":1,"strokeWidth":0},"encoding":{"x":{"field":"x","type":"quantitative","scale":{"domain":[-0.3,3.5],"nice":false,"zero":false},"axis":{"orient":"bottom","values":[0,1,2,3],"tickSize":-7,"labels":false,"title":null}},"y":{"field":"v","type":"quantitative","scale":{"domain":[-0.096,2.114],"nice":false,"zero":false},"axis":{"orient":"left","values":[0,0.5,1,1.5,2],"tickSize":-16,"labelPadding":21,"format":"~g","title":null}},
"shape":{"field":"p","type":"nominal","scale":{"domain":["1.5-2.0 GeV","2.0-2.5 GeV","2.5-3.0 GeV","3.0-5.0 GeV"],"range":["triangle-down","circle","M-1,-1H1V1H-1Z M-0.72,-0.72V0.72H0.72V-0.72Z","triangle-up"]},"legend":null}}},
{"transform":[{"aggregate":[{"op":"count","as":"n"}]}],"mark":{"type":"text","align":"left","baseline":"middle","font":"Liberation Sans","fontWeight":"bold","fontSize":21},"encoding":{"x":{"datum":-0.162,"type":"quantitative","scale":{"domain":[-0.3,3.5],"nice":false,"zero":false},"axis":null},"y":{"datum":0.21,"type":"quantitative","scale":{"domain":[-0.096,2.114],"nice":false,"zero":false},"axis":null},"text":{"value":"p"},"color":{"value":"black"}}},
{"transform":[{"aggregate":[{"op":"count","as":"n"}]}],"mark":{"type":"text","align":"left","baseline":"middle","font":"Liberation Sans","fontWeight":"bold","fontSize":14},"encoding":{"x":{"datum":-0.073,"type":"quantitative","scale":{"domain":[-0.3,3.5],"nice":false,"zero":false},"axis":null},"y":{"datum":0.096,"type":"quantitative","scale":{"domain":[-0.096,2.114],"nice":false,"zero":false},"axis":null},"text":{"value":"T2"},"color":{"value":"black"}}},
{"transform":[{"aggregate":[{"op":"count","as":"n"}]}],"mark":{"type":"text","align":"left","baseline":"middle","font":"Liberation Sans","fontWeight":"bold","fontSize":21},"encoding":{"x":{"datum":0.062,"type":"quantitative","scale":{"domain":[-0.3,3.5],"nice":false,"zero":false},"axis":null},"y":{"datum":0.21,"type":"quantitative","scale":{"domain":[-0.096,2.114],"nice":false,"zero":false},"axis":null},"text":{"value":"= 2.0-2.5 GeV"},"color":{"value":"black"}}},
{"transform":[{"aggregate":[{"op":"count","as":"n"}]}],"mark":{"type":"text","align":"left","baseline":"middle","font":"Lato","fontWeight":"bold","fontSize":32},"encoding":{"x":{"datum":1.648,"type":"quantitative","scale":{"domain":[-0.3,3.5],"nice":false,"zero":false},"axis":null},"y":{"datum":0.218,"type":"quantitative","scale":{"domain":[-0.096,2.114],"nice":false,"zero":false},"axis":null},"text":{"value":"STAR"},"color":{"value":"black"}}},
{"transform":[{"aggregate":[{"op":"count","as":"n"}]}],"mark":{"type":"text","align":"right","baseline":"middle","font":"Lato","fontStyle":"italic","fontSize":35},"encoding":{"x":{"datum":3.362,"type":"quantitative","scale":{"domain":[-0.3,3.5],"nice":false,"zero":false},"axis":null},"y":{"datum":0.218,"type":"quantitative","scale":{"domain":[-0.096,2.114],"nice":false,"zero":false},"axis":null},"text":{"value":"Preliminary"},"color":{"value":"black"}}}
]}
]},
{"width":100,"height":752,"view":{"stroke":null},
"data":{"values":[{}]},
"layer":[
{"mark":{"type":"rule","color":"#008000","strokeWidth":5},"encoding":{"x":{"datum":0.14,"type":"quantitative","scale":{"domain":[0,1],"nice":false,"zero":false},"axis":null},"y":{"datum":0.963,"type":"quantitative","scale":{"domain":[0,1],"nice":false,"zero":false},"axis":null},"y2":{"datum":0.026}}},
{"mark":{"type":"point","shape":"M-1,-0.85L0,0.85L1,-0.85","size":676,"filled":false,"stroke":"#008000","strokeWidth":5,"strokeJoin":"miter","opacity":1},"encoding":{"x":{"datum":0.14,"type":"quantitative","scale":{"domain":[0,1],"nice":false,"zero":false},"axis":null},"y":{"datum":0.037,"type":"quantitative","scale":{"domain":[0,1],"nice":false,"zero":false},"axis":null}}},
{"mark":{"type":"text","angle":90,"align":"left","baseline":"alphabetic","font":"Lato","fontSize":38,"color":"#5a9a3a"},"encoding":{"x":{"datum":0.59,"type":"quantitative","scale":{"domain":[0,1],"nice":false,"zero":false},"axis":null},"y":{"datum":0.757,"type":"quantitative","scale":{"domain":[0,1],"nice":false,"zero":false},"axis":null},"text":{"value":"associated"}}},
{"mark":{"type":"text","angle":90,"align":"left","baseline":"alphabetic","font":"DejaVu Serif","fontStyle":"italic","fontSize":34,"color":"#5a9a3a"},"encoding":{"x":{"datum":0.59,"type":"quantitative","scale":{"domain":[0,1],"nice":false,"zero":false},"axis":null},"y":{"datum":0.5,"type":"quantitative","scale":{"domain":[0,1],"nice":false,"zero":false},"axis":null},"text":{"value":"π"}}},
{"mark":{"type":"text","angle":90,"align":"left","baseline":"alphabetic","font":"Lato","fontSize":22,"color":"#5a9a3a"},"encoding":{"x":{"datum":0.75,"type":"quantitative","scale":{"domain":[0,1],"nice":false,"zero":false},"axis":null},"y":{"datum":0.457,"type":"quantitative","scale":{"domain":[0,1],"nice":false,"zero":false},"axis":null},"text":{"value":"0"}}},
{"mark":{"type":"text","angle":90,"align":"left","baseline":"alphabetic","font":"Lato","fontSize":36,"color":"#5a9a3a"},"encoding":{"x":{"datum":0.59,"type":"quantitative","scale":{"domain":[0,1],"nice":false,"zero":false},"axis":null},"y":{"datum":0.43,"type":"quantitative","scale":{"domain":[0,1],"nice":false,"zero":false},"axis":null},"text":{"value":":"}}},
{"mark":{"type":"text","angle":90,"align":"left","baseline":"alphabetic","font":"Lato","fontSize":36,"color":"#5a9a3a"},"encoding":{"x":{"datum":0.59,"type":"quantitative","scale":{"domain":[0,1],"nice":false,"zero":false},"axis":null},"y":{"datum":0.405,"type":"quantitative","scale":{"domain":[0,1],"nice":false,"zero":false},"axis":null},"text":{"value":"p"}}},
{"mark":{"type":"text","angle":90,"align":"left","baseline":"alphabetic","font":"Lato","fontSize":22,"color":"#5a9a3a"},"encoding":{"x":{"datum":0.5,"type":"quantitative","scale":{"domain":[0,1],"nice":false,"zero":false},"axis":null},"y":{"datum":0.377,"type":"quantitative","scale":{"domain":[0,1],"nice":false,"zero":false},"axis":null},"text":{"value":"T2"}}}
]}
]}
]
}
